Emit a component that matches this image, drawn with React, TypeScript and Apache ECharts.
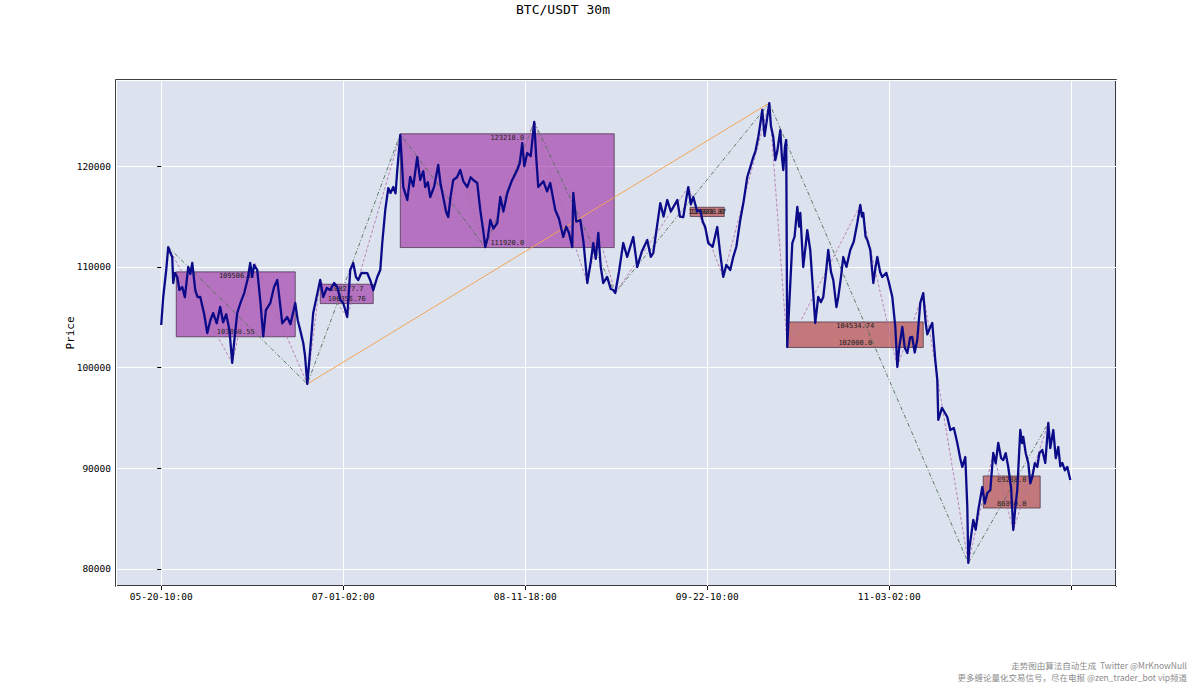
import React, { useEffect, useRef } from 'react';
import * as echarts from 'echarts';

// ---- time axis (30m bars, index based) ----
const START_MS = Date.UTC(2025, 4, 20, 10, 0);
const BAR_MINUTES = 30;
const LAST_INDEX = 9990;
const X_MIN = -497;
const X_MAX = 10492;
const Y_MIN = 78310;
const Y_MAX = 128560;

// ---- price path [bar index, price] ----
const pricePoints: [number, number][] = [
  [0, 104230], [22, 107010], [55, 109700], [77, 111970], [100, 111400], [121, 110980], [132, 108400], [150, 109400],
  [176, 109000], [200, 107700], [231, 108000], [260, 107000], [297, 109990], [320, 109300], [341, 110390], [374, 107700],
  [400, 107000], [429, 107010], [470, 105400], [506, 103430], [540, 104700], [571, 105420], [610, 104400], [648, 106020],
  [680, 104500], [714, 105300], [750, 103700], [780, 100460], [800, 102400], [835, 105420], [870, 106400], [912, 107400],
  [950, 108800], [978, 110390], [1000, 109000], [1020, 110200], [1055, 109690], [1090, 106500], [1121, 103100], [1150, 105700],
  [1198, 106400], [1240, 108000], [1275, 108700], [1300, 106800], [1330, 104400], [1385, 105020], [1420, 104300], [1473, 106410],
  [1500, 104700], [1527, 103730], [1561, 102440], [1580, 101200], [1605, 98370],
  [1637, 101750], [1670, 105420], [1700, 106700], [1747, 108700], [1780, 107010], [1820, 107900], [1857, 107700], [1900, 108400],
  [1934, 108000], [1970, 106700], [2000, 106410], [2044, 105020], [2077, 109690], [2110, 110390], [2140, 109000], [2165, 108700],
  [2200, 109400], [2264, 109390], [2300, 108600], [2330, 107700], [2374, 109000], [2407, 109690], [2429, 112370], [2462, 115650],
  [2495, 117830], [2520, 117340], [2550, 117930], [2575, 117300], [2594, 119620], [2627, 123100],
  [2660, 117930], [2704, 116640], [2736, 118930], [2770, 118000], [2813, 120910], [2846, 118630], [2880, 119500], [2901, 117930],
  [2930, 118400], [2956, 116940], [3000, 118000], [3044, 120120], [3070, 118200], [3099, 116940], [3130, 115500], [3154, 114950],
  [3180, 117000], [3209, 118630], [3250, 118900], [3286, 119620], [3320, 118500], [3363, 117930], [3400, 118900], [3429, 118630],
  [3473, 118330], [3506, 115650], [3540, 113500], [3561, 111970], [3590, 113000], [3616, 114660], [3650, 113800], [3693, 114360],
  [3726, 116940], [3760, 115500], [3803, 117340], [3850, 118500], [3912, 119620], [3940, 120300], [3967, 122300], [3990, 120000],
  [4022, 121310], [4060, 121000], [4099, 124390], [4120, 121000], [4143, 117930], [4200, 118500], [4240, 117500], [4275, 118330],
  [4330, 115650], [4370, 114800], [4418, 112970], [4450, 114000], [4480, 113400], [4517, 111970], [4528, 117340], [4560, 114500],
  [4605, 114660], [4640, 112500], [4682, 108400], [4720, 110500], [4748, 112370], [4775, 110800], [4803, 113370], [4830, 110000],
  [4857, 108400], [4900, 109000], [4940, 107800], [4967, 107700], [4989, 107410],
  [5030, 109500], [5077, 112370], [5120, 111000], [5187, 112970], [5231, 109990], [5280, 111500], [5341, 112670], [5380, 111000],
  [5407, 111380], [5440, 113500], [5484, 116340], [5520, 115000], [5561, 116640], [5600, 115500], [5671, 116640], [5700, 115000],
  [5737, 114950], [5770, 116800], [5792, 117930], [5820, 116200], [5847, 116940], [5890, 115500], [5924, 115650], [5950, 114500],
  [5978, 113960], [6011, 112370], [6060, 112000], [6110, 113960], [6140, 111500], [6176, 109000], [6210, 110200], [6253, 109690],
  [6286, 110980], [6320, 112000], [6363, 114660], [6400, 116500], [6440, 118930], [6470, 119800], [6506, 120910], [6530, 121500],
  [6561, 122900], [6580, 124000], [6605, 125580], [6630, 123000], [6660, 124880], [6682, 126270],
  [6700, 124000], [6726, 122900], [6748, 120610], [6770, 121500], [6803, 123590], [6820, 121000], [6836, 119620], [6855, 122000],
  [6868, 122600], [6879, 102040], [6900, 106000], [6935, 112370], [6960, 113000], [6990, 115950], [7010, 114000], [7023, 115350],
  [7055, 109990], [7080, 112000], [7099, 113660], [7132, 111680], [7160, 108000], [7187, 104430], [7220, 107010], [7250, 106500],
  [7275, 107010], [7300, 109000], [7330, 111680], [7360, 109500], [7385, 108700], [7420, 106000], [7440, 107010], [7470, 109000],
  [7495, 110980], [7530, 110000], [7572, 111680], [7610, 112500], [7649, 114360], [7682, 116150], [7700, 115000], [7715, 115350],
  [7740, 113000], [7759, 112670], [7792, 111680], [7825, 108400], [7850, 110000], [7869, 110980], [7900, 109500], [7924, 109000],
  [7968, 109400], [7990, 108700], [8034, 107010], [8067, 104030], [8089, 100060], [8110, 102000], [8144, 104030], [8170, 102000],
  [8199, 101450], [8230, 103000], [8253, 103040], [8280, 101500], [8308, 102740], [8341, 106410], [8374, 107400], [8400, 104500],
  [8418, 103300], [8450, 104000], [8473, 104430], [8506, 100750], [8528, 98800], [8539, 94800], [8580, 96000], [8638, 95090],
  [8671, 93800], [8710, 94000], [8748, 92510], [8780, 91000], [8803, 90130], [8836, 91120], [8858, 86160], [8869, 80600],
  [8880, 82000], [8924, 84870], [8950, 83900], [8979, 85860], [9023, 88140], [9050, 86500], [9078, 87550], [9111, 87840],
  [9143, 91520], [9170, 90500], [9198, 92510], [9230, 91000], [9253, 90820], [9280, 91500], [9308, 90130], [9340, 88000],
  [9363, 83870], [9390, 86500], [9407, 87840], [9440, 93800], [9460, 92500], [9473, 93110], [9500, 91500], [9528, 90530],
  [9550, 88500], [9572, 89140], [9600, 90500], [9627, 90130], [9650, 91500], [9682, 91820], [9715, 90530], [9748, 94500],
  [9770, 92000], [9803, 93800], [9830, 91000], [9858, 92110], [9880, 90200], [9902, 90530], [9930, 89800], [9957, 90130],
  [9990, 88840],
];

// ---- pivot boxes ----
const boxStart = [165, 1747, 2627, 5813, 6879, 9033];
const boxEnd = [1473, 2330, 4978, 6187, 8374, 9659];
const boxLow = [103058.55, 106356.76, 111920.0, 115000.0, 102000.0, 86050.0];
const boxHigh = [109506.0, 108277.7, 123218.0, 115921.87, 104534.74, 89238.0];
const boxKind = ['up', 'up', 'up', 'down', 'down', 'down'];

// ---- zigzag pivots ----
const segmentPoints: [number, number][] = [
  [77, 111970], [1605, 98370], [2627, 123200], [3561, 111920], [4099, 124390],
  [4989, 107410], [6682, 126270], [8869, 80600], [9748, 94500],
];
const biPoints: [number, number][] = [
  [77, 111970], [780, 100460], [1030, 110390], [1605, 98370], [1747, 108700], [2044, 105020],
  [2627, 123100], [3154, 114950], [3286, 119620], [3561, 111970], [4099, 124390], [4682, 108400],
  [4803, 113370], [4989, 107410], [5792, 117930], [6176, 109000], [6682, 126270], [6879, 102040],
  [7682, 116150], [8089, 100060], [8374, 107400], [8869, 80600], [9143, 91520], [9363, 83870], [9748, 94500],
];
const trendPoints: [number, number][] = [[1605, 98370], [6682, 126270]];

const WATERMARK_1 = '走势图由算法自动生成  Twitter @MrKnowNull';
const WATERMARK_2 = '更多缠论量化交易信号，尽在电报 @zen_trader_bot vip频道';

const MONO = '"DejaVu Sans Mono", monospace';

function pad(n: number) {
  return n < 10 ? '0' + n : '' + n;
}
function idxLabel(v: number) {
  if (v < 0 || v > LAST_INDEX) return '';
  const d = new Date(START_MS + v * BAR_MINUTES * 60000);
  return `${pad(d.getUTCMonth() + 1)}-${pad(d.getUTCDate())}-${pad(d.getUTCHours())}:${pad(d.getUTCMinutes())}`;
}
function fmtNum(n: number) {
  return Number.isInteger(n) ? n.toFixed(1) : String(n);
}

export default function App() {
  const ref = useRef<HTMLDivElement>(null);
  useEffect(() => {
    if (!ref.current) return;
    const chart = echarts.init(ref.current, undefined, { renderer: 'svg' });
    const boxData = boxStart.map((s, i) => [s, boxEnd[i], boxLow[i], boxHigh[i], boxKind[i] === 'up' ? 1 : 0]);
    chart.setOption({
      animation: false,
      backgroundColor: '#ffffff',
      grid: {
        left: 116, right: 83, top: 80, bottom: 109,
        show: true, backgroundColor: '#dce3ee', borderColor: '#000000', borderWidth: 1.5,
      },
      xAxis: {
        type: 'value', min: X_MIN, max: X_MAX, minInterval: 2000, maxInterval: 2000,
        axisLine: { show: false },
        axisTick: { show: true, length: 4, lineStyle: { color: '#000' } },
        axisLabel: {
          show: true, showMinLabel: false, showMaxLabel: false, margin: 5,
          color: '#000', fontFamily: MONO, fontSize: 9.5,
          formatter: (v: number) => idxLabel(v),
        },
        splitLine: { show: true, lineStyle: { color: '#ffffff', width: 1 } },
      },
      yAxis: {
        type: 'value', min: Y_MIN, max: Y_MAX, minInterval: 10000, maxInterval: 10000,
        name: 'Price', nameLocation: 'middle', nameGap: 40, nameRotate: 90, nameMoveOverlap: false,
        nameTextStyle: { color: '#000', fontFamily: MONO, fontSize: 11 },
        axisLine: { show: false },
        axisTick: { show: true, length: 4, lineStyle: { color: '#000' } },
        axisLabel: {
          show: true, showMinLabel: false, showMaxLabel: false, margin: 5,
          color: '#000', fontFamily: MONO, fontSize: 9.5,
          formatter: (v: number) => String(v),
        },
        splitLine: { show: true, lineStyle: { color: '#ffffff', width: 1 } },
      },
      graphic: [
        { type: 'text', x: 563, y: 9, style: { text: 'BTC/USDT 30m', fontFamily: MONO, fontSize: 13, fill: '#000', align: 'center', verticalAlign: 'middle' } },
        { type: 'text', x: 1187, y: 665, style: { text: WATERMARK_1, fontFamily: '"Noto Sans CJK SC", sans-serif', fontSize: 8.5, fill: '#8c8c8c', align: 'right', verticalAlign: 'middle' } },
        { type: 'text', x: 1187, y: 677, style: { text: WATERMARK_2, fontFamily: '"Noto Sans CJK SC", sans-serif', fontSize: 8.5, fill: '#8c8c8c', align: 'right', verticalAlign: 'middle' } },
      ],
      series: [
        {
          type: 'custom', name: 'pivots', z: 1,
          encode: { x: [0, 1], y: [2, 3] },
          data: boxData,
          renderItem: (_p: any, api: any) => {
            const x0 = api.value(0), x1 = api.value(1), lo = api.value(2), hi = api.value(3), up = api.value(4);
            const a = api.coord([x0, hi]);
            const b = api.coord([x1, lo]);
            const cx = (a[0] + b[0]) / 2;
            return {
              type: 'group',
              children: [
                {
                  type: 'rect',
                  shape: { x: a[0], y: a[1], width: b[0] - a[0], height: b[1] - a[1] },
                  style: { fill: up ? 'rgba(145,10,150,0.52)' : 'rgba(172,22,18,0.52)', stroke: 'rgba(40,20,40,0.75)', lineWidth: 0.8 },
                },
                { type: 'text', x: cx, y: a[1] + 1, style: { text: fmtNum(hi), align: 'center', verticalAlign: 'top', fontSize: 7, fontFamily: MONO, fill: '#222' } },
                { type: 'text', x: cx, y: b[1] - 1, style: { text: fmtNum(lo), align: 'center', verticalAlign: 'bottom', fontSize: 7, fontFamily: MONO, fill: '#222' } },
              ],
            };
          },
        },
        {
          type: 'line', name: 'trend', data: trendPoints, z: 2, showSymbol: false, silent: true,
          lineStyle: { color: '#f2a55a', width: 1 },
        },
        {
          type: 'line', name: 'segment', data: segmentPoints, z: 2, showSymbol: false, silent: true,
          lineStyle: { color: '#4f6f55', width: 0.9, type: [4, 2, 1, 2] },
        },
        {
          type: 'line', name: 'bi', data: biPoints, z: 2, showSymbol: false, silent: true,
          lineStyle: { color: '#b46aa8', width: 0.8, type: [3, 2] },
        },
        {
          type: 'line', name: 'price', data: pricePoints, z: 3, showSymbol: false, silent: true,
          lineStyle: { color: '#0b0b8a', width: 2.3, join: 'round' },
        },
      ],
    });
    return () => chart.dispose();
  }, []);
  return <div ref={ref} style={{ position: 'fixed', left: 0, top: 0, width: 1199, height: 695 }} />;
}
